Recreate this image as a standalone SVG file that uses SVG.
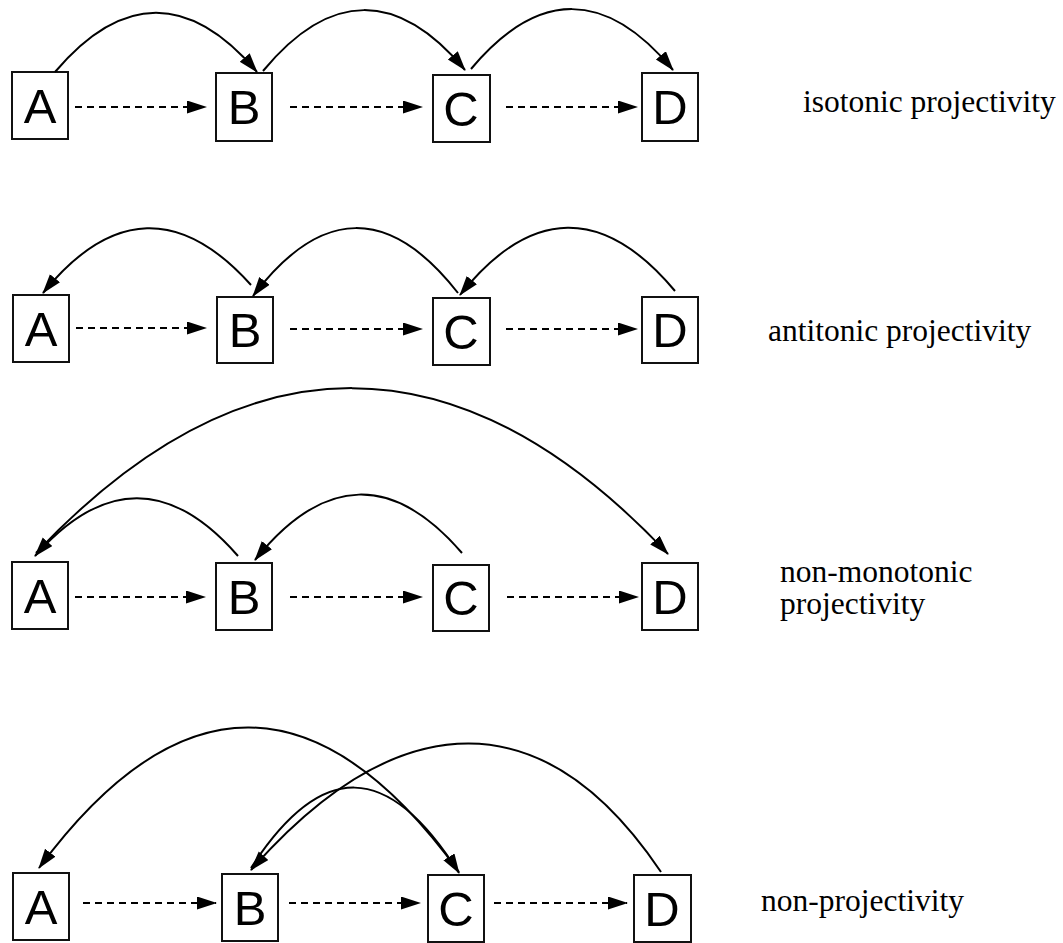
<svg xmlns="http://www.w3.org/2000/svg" width="1063" height="943" viewBox="0 0 1063 943">
  <defs>
    <marker id="ah" markerUnits="userSpaceOnUse" markerWidth="22" markerHeight="14" refX="19" refY="6.5" orient="auto">
      <path d="M0,0 L20,6.5 L0,13 z" fill="#000" stroke="none"/>
    </marker>
    <style>
      .box { fill: #fff; stroke: #111; stroke-width: 2; }
      .let { font-family: "Liberation Sans", Arial, sans-serif; font-size: 49px; text-anchor: middle; fill: #000; }
      .lbl { font-family: "Liberation Serif", "Times New Roman", serif; font-size: 31.5px; fill: #000; }
      .arc { fill: none; stroke: #000; stroke-width: 2; marker-end: url(#ah); }
      .dash { fill: none; stroke: #000; stroke-width: 2; stroke-dasharray: 7 5; marker-end: url(#ah); }
    </style>
  </defs>
  <rect width="1063" height="943" fill="#fff"/>

  <!-- Row 1 -->
  <g id="r1A"><rect class="box" x="12" y="72" width="56" height="67"/><text class="let" x="40" y="123">A</text></g>
  <g id="r1B"><rect class="box" x="216" y="73" width="56" height="68"/><text class="let" x="244" y="124">B</text></g>
  <g id="r1C"><rect class="box" x="433" y="75" width="57" height="67"/><text class="let" x="461" y="126">C</text></g>
  <g id="r1D"><rect class="box" x="642" y="73" width="56" height="68"/><text class="let" x="670" y="124">D</text></g>
  <g id="r1label"><text class="lbl" x="803" y="112">isotonic projectivity</text></g>

  <!-- Row 2 -->
  <g id="r2A"><rect class="box" x="13" y="295" width="56" height="67"/><text class="let" x="41" y="346">A</text></g>
  <g id="r2B"><rect class="box" x="217" y="297" width="56" height="66"/><text class="let" x="245" y="347">B</text></g>
  <g id="r2C"><rect class="box" x="433" y="298" width="57" height="67"/><text class="let" x="461" y="349">C</text></g>
  <g id="r2D"><rect class="box" x="642" y="297" width="56" height="66"/><text class="let" x="670" y="347">D</text></g>
  <g id="r2label"><text class="lbl" x="768" y="341">antitonic projectivity</text></g>

  <!-- Row 3 -->
  <g id="r3A"><rect class="box" x="12" y="562" width="56" height="67"/><text class="let" x="40" y="613">A</text></g>
  <g id="r3B"><rect class="box" x="216" y="563" width="56" height="67"/><text class="let" x="244" y="614">B</text></g>
  <g id="r3C"><rect class="box" x="433" y="565" width="56" height="66"/><text class="let" x="461" y="615">C</text></g>
  <g id="r3D"><rect class="box" x="642" y="563" width="56" height="67"/><text class="let" x="670" y="614">D</text></g>
  <g id="r3label"><text class="lbl" x="780" y="582">non-monotonic</text><text class="lbl" x="780" y="614">projectivity</text></g>

  <!-- Row 4 -->
  <g id="r4A"><rect class="box" x="13" y="873" width="56" height="67"/><text class="let" x="41" y="924">A</text></g>
  <g id="r4B"><rect class="box" x="222" y="874" width="56" height="67"/><text class="let" x="250" y="925">B</text></g>
  <g id="r4C"><rect class="box" x="428" y="875" width="56" height="67"/><text class="let" x="456" y="926">C</text></g>
  <g id="r4D"><rect class="box" x="634" y="875" width="57" height="67"/><text class="let" x="662" y="926">D</text></g>
  <g id="r4label"><text class="lbl" x="761" y="911">non-projectivity</text></g>

  <g id="connectors">
    <!-- Row 1 -->
    <path class="arc" d="M55,72 C122,-7 190,-7 257,72"/>
    <path class="arc" d="M263,71 C330,-10 398,-10 465,70"/>
    <path class="arc" d="M471,69 C538,-11 606,-11 673,70"/>
    <path class="dash" d="M75,107 H206"/>
    <path class="dash" d="M290,107 H422"/>
    <path class="dash" d="M506,107 H637"/>

    <!-- Row 2 -->
    <path class="arc" d="M251,285 C182,208 112,208 43,293"/>
    <path class="arc" d="M458,293 C390,206 321,206 253,296"/>
    <path class="arc" d="M675,291 C604,206 531,206 460,295"/>
    <path class="dash" d="M76,328 H206"/>
    <path class="dash" d="M290,329 H422"/>
    <path class="dash" d="M506,329 H637"/>

    <!-- Row 3 -->
    <path class="arc" d="M36,553 C244,333 460,333 668,554"/>
    <path class="arc" d="M238,556 C171,479 103,479 35,556"/>
    <path class="arc" d="M462,553 C394,474 324,474 255,560"/>
    <path class="dash" d="M75,597 H205"/>
    <path class="dash" d="M290,597 H422"/>
    <path class="dash" d="M507,597 H638"/>

    <!-- Row 4 -->
    <path class="arc" d="M459,872 C320,680 178,680 39,868"/>
    <path class="arc" d="M251,868 C321,760 388,760 459,873"/>
    <path class="arc" d="M661,872 C546,701 400,701 251,870"/>
    <path class="dash" d="M83,903 H216"/>
    <path class="dash" d="M289,903 H420"/>
    <path class="dash" d="M494,903 H627"/>
  </g>
</svg>
